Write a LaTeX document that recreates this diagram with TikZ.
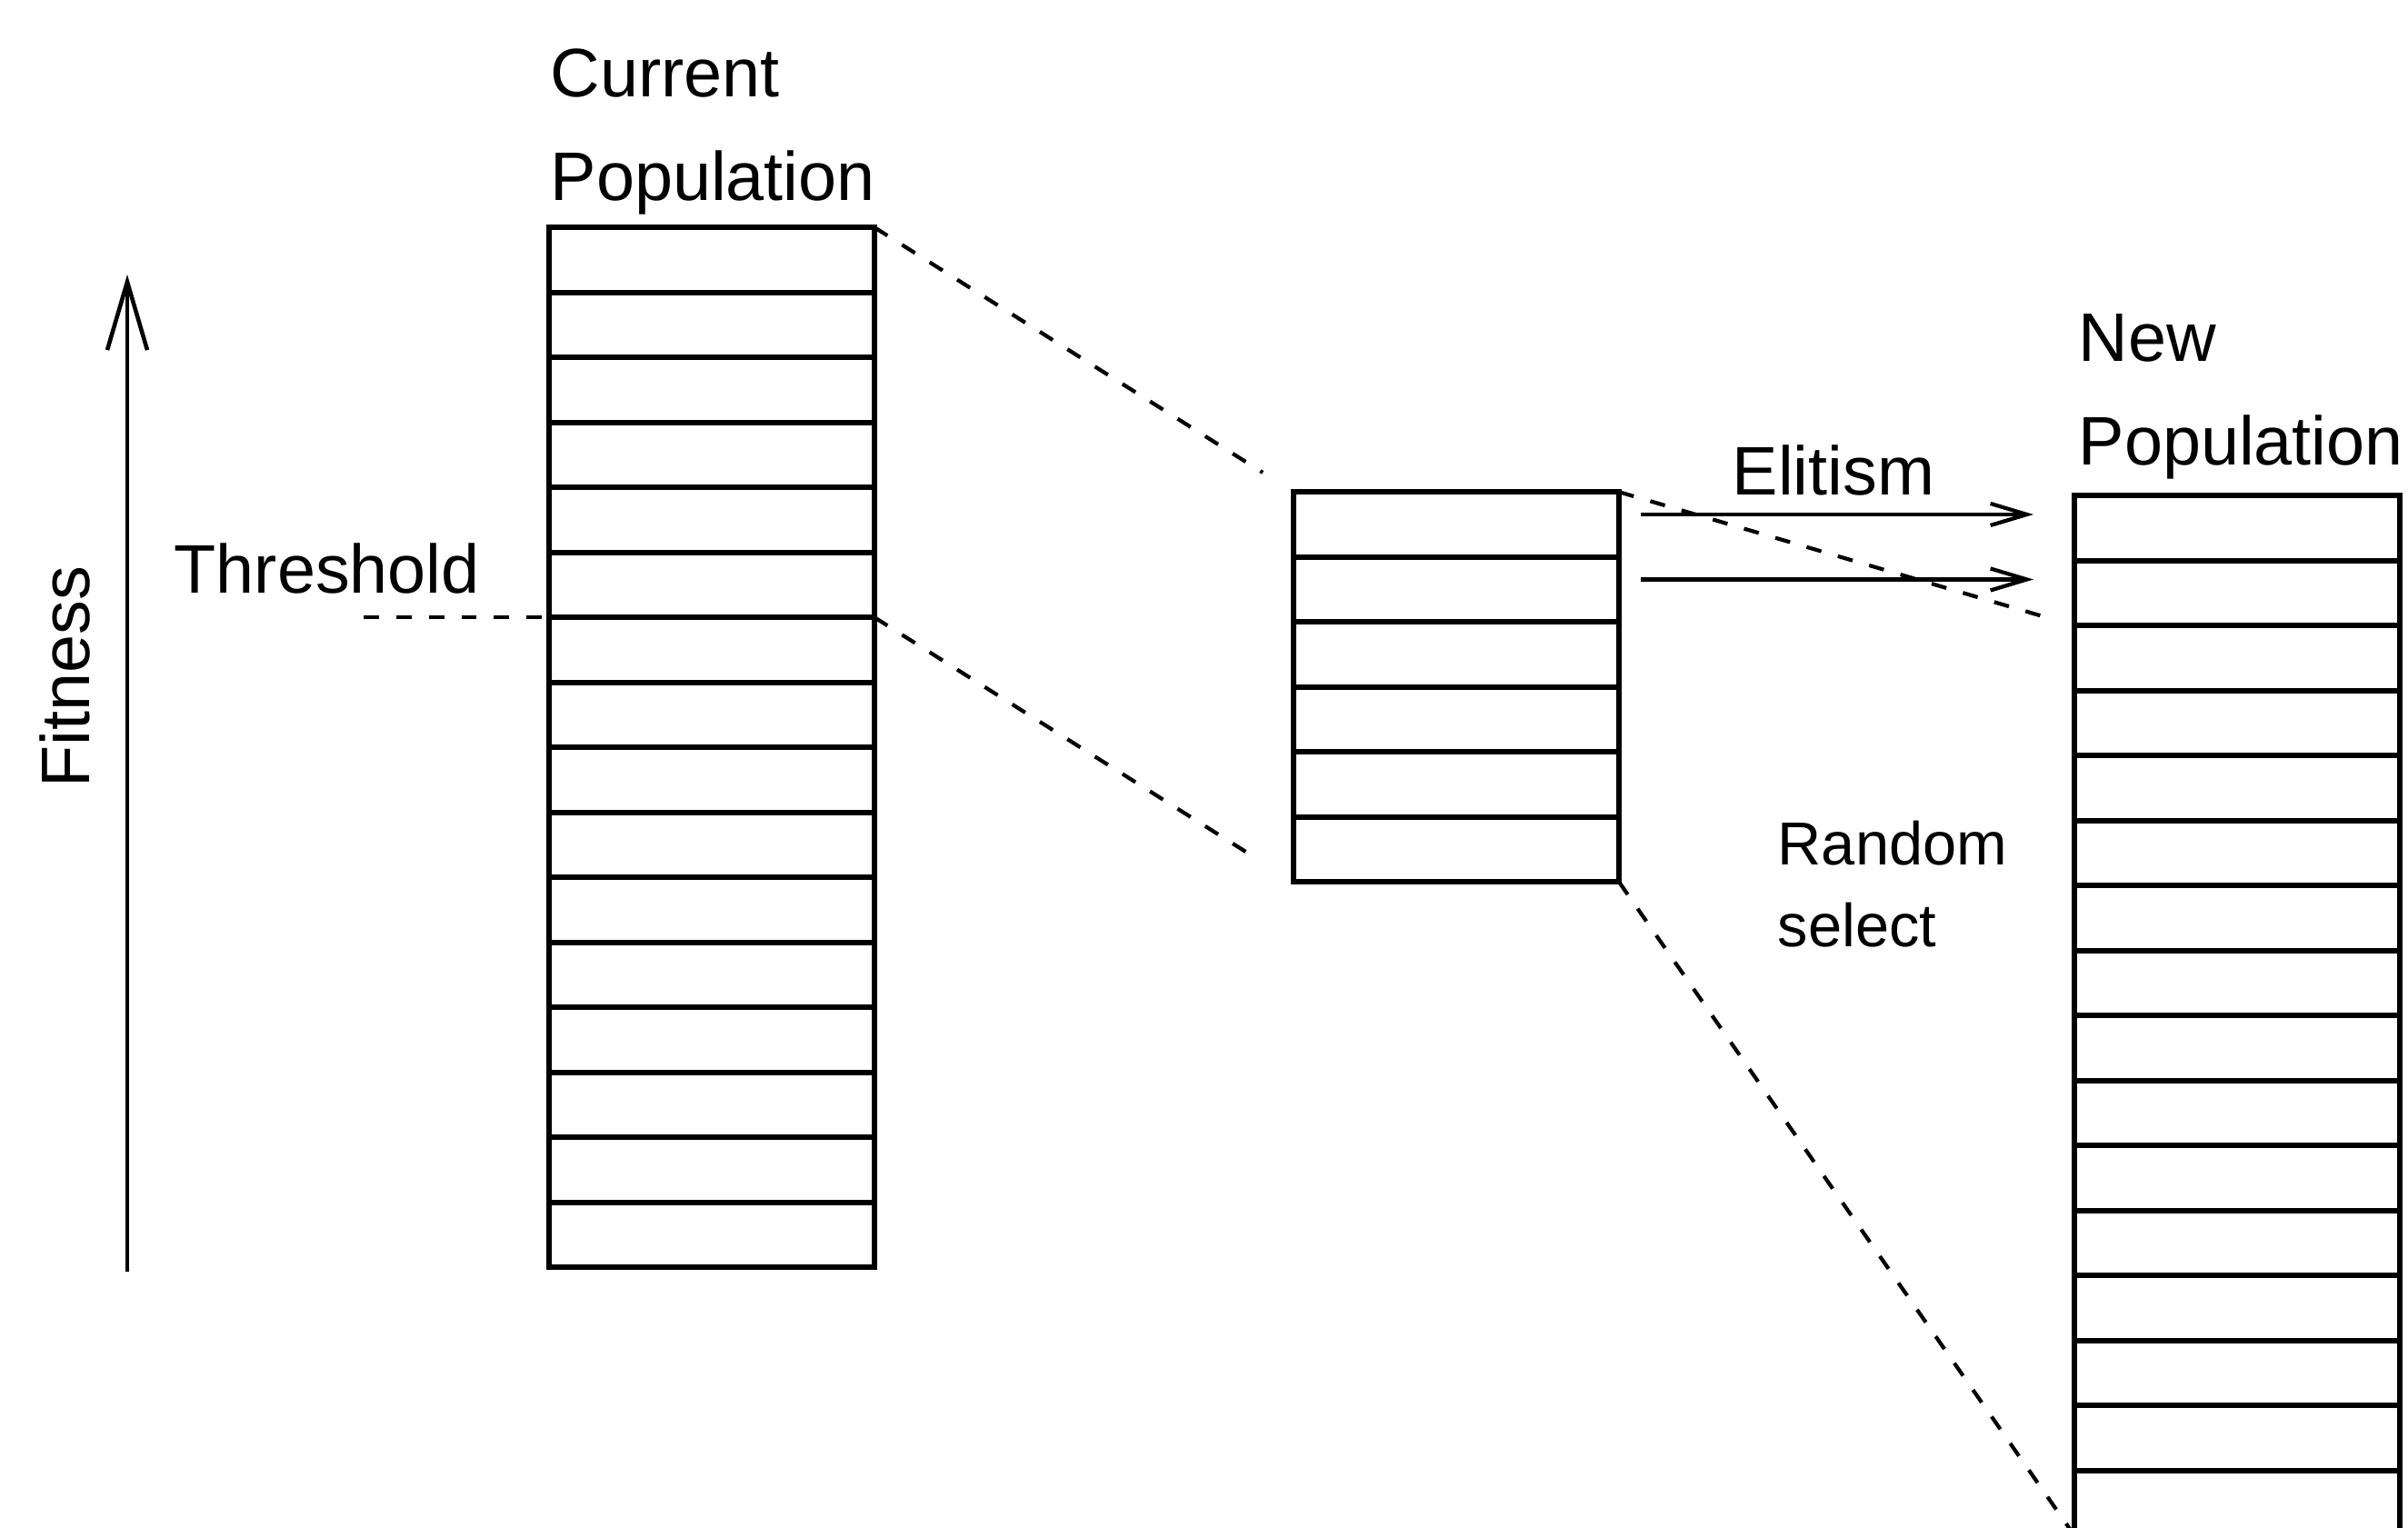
\documentclass[tikz,border=0pt]{standalone}
\usepackage{fontspec}
\setmainfont{Liberation Sans}
\usetikzlibrary{arrows.meta,positioning}
\tikzset{
  cell/.style={
    draw, rectangle, line width=1.8pt, inner sep=0pt, outer sep=0pt,
    minimum width=35.8mm, minimum height=7.15mm
  },
  lbl/.style={
    inner sep=0pt, align=left, font=\fontsize{21.5}{32.7}\selectfont
  },
  small lbl/.style={
    inner sep=0pt, align=left, font=\fontsize{19}{25.6}\selectfont
  },
  link/.style={
    line width=1.2pt, dash pattern=on 4.8pt off 5.4pt
  },
  elite/.style={
    line width=1.2pt, -{Straight Barb[length=4mm, width=2.4mm]},
    shorten <=2.4mm, shorten >=4.5mm
  },
  fitaxis/.style={
    line width=1.3pt, -{Straight Barb[length=7.5mm, width=4.4mm]}
  },
}

\begin{document}
\begin{tikzpicture}
  \useasboundingbox (0,0) rectangle (26.49,16.81);
  \clip (0,0) rectangle (26.49,16.81);

  % current population, sorted by fitness
  \node[cell] (cur1) at (7.83,13.95) {};
  \foreach \i [remember=\i as \j (initially 1)] in {2,...,16}
    \node[cell, below=0pt of cur\j] (cur\i) {};

  % individuals above the threshold
  \node[cell] (mid1) at (16.02,11.04) {};
  \foreach \i [remember=\i as \j (initially 1)] in {2,...,6}
    \node[cell, below=0pt of mid\j] (mid\i) {};

  % new population
  \node[cell] (new1) at (24.61,11.00) {};
  \foreach \i [remember=\i as \j (initially 1)] in {2,...,16}
    \node[cell, below=0pt of new\j] (new\i) {};

  \node[lbl, anchor=base west] (curlbl) at (6.05,14.60) {Current\\Population};
  \node[lbl, anchor=base west] (newlbl) at (22.86,11.69) {New\\Population};
  \node[lbl, anchor=base west] (elitlbl) at (19.05,11.36) {Elitism};
  \node[lbl, anchor=base west] (thrlbl) at (1.91,10.28) {Threshold};
  \node[small lbl, anchor=base west] (randlbl) at (19.55,6.39) {Random\\select};
  \node[lbl, rotate=90, anchor=base] (fitlbl) at (0.98,9.36) {Fitness};

  % fitness axis
  \coordinate (fitlow) at (1.40,2.82);
  \coordinate (fithigh) at (1.40,13.79);
  \draw[fitaxis] (fitlow) -- (fithigh);

  % threshold and selection
  \coordinate (thrstart) at ([xshift=-20.4mm]cur6.south west);
  \draw[link] (thrstart) -- (cur6.south west);
  \draw[link, shorten >=4mm] (cur1.north east) -- (mid1.north west);
  \draw[link, shorten >=5.5mm] (cur6.south east) -- (mid6.south west);
  \draw[link, shorten >=3mm] (mid1.north east) -- (new2.south west);
  \draw[link] (mid6.south east) -- (new16.south west);

  % elitism
  \draw[elite] ([yshift=1.1mm]mid1.east) -- ([yshift=1.1mm]mid1.east -| new1.west);
  \draw[elite] ([yshift=1.1mm]mid2.east) -- ([yshift=1.1mm]mid2.east -| new2.west);
\end{tikzpicture}
\end{document}
